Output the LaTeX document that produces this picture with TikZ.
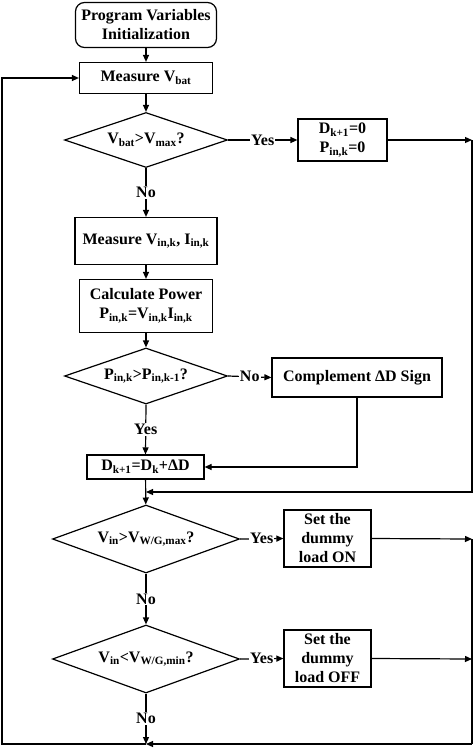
\documentclass[tikz,border=0pt]{standalone}
\usepackage{fontspec}
\setmainfont{Liberation Serif}
\usetikzlibrary{shapes.geometric,arrows.meta,positioning,calc}

\begin{document}
\begin{tikzpicture}[
  x=1pt, y=-1pt,
  every node/.style={font=\fontsize{16}{19}\selectfont\bfseries},
  procbox/.style={rectangle, draw, line width=1.2pt, align=center, inner sep=1pt},
  startbox/.style={procbox, rounded corners=9pt},
  decision/.style={diamond, draw, line width=1.2pt, aspect=2.8, inner sep=0pt},
  flowline/.style={line width=1.2pt, -{Triangle[length=7pt,width=6pt]}},
  plainline/.style={line width=1.2pt},
  answer/.style={fill=white, inner sep=1pt}
]
  \useasboundingbox (0,0) rectangle (474,748);

  % main column
  \node[startbox, minimum width=141pt, minimum height=45pt] (init) at (146,25)
      {Program Variables\\Initialization};
  \node[procbox, minimum width=133pt, minimum height=31pt] (vbat) at (146,78)
      {Measure V\textsubscript{bat}};
  \node[decision, minimum width=163pt, minimum height=55pt] (chkbat) at (146,140)
      {V\textsubscript{bat}>V\textsubscript{max}?};
  \node[procbox, minimum width=142pt, minimum height=47pt] (meas) at (146,241)
      {Measure V\textsubscript{in,k}, I\textsubscript{in,k}};
  \node[procbox, minimum width=133pt, minimum height=53pt] (power) at (146,306)
      {Calculate Power\\P\textsubscript{in,k}=V\textsubscript{in,k}I\textsubscript{in,k}};
  \node[decision, minimum width=163pt, minimum height=56pt] (chkpow) at (146,376)
      {P\textsubscript{in,k}>P\textsubscript{in,k-1}?};
  \node[procbox, minimum width=117pt, minimum height=24pt] (duty) at (145.5,467)
      {D\textsubscript{k+1}=D\textsubscript{k}+ΔD};
  \node[decision, minimum width=187pt, minimum height=68pt] (chkmax) at (146,539)
      {V\textsubscript{in}>V\textsubscript{W/G,max}?};
  \node[decision, minimum width=187pt, minimum height=68pt] (chkmin) at (146,659)
      {V\textsubscript{in}<V\textsubscript{W/G,min}?};

  % side boxes
  \node[procbox, minimum width=89pt, minimum height=42pt] (reset) at (342.5,140)
      {D\textsubscript{k+1}=0\\P\textsubscript{in,k}=0};
  \node[procbox, minimum width=170pt, minimum height=39pt] (compl) at (357,377.5)
      {Complement ΔD Sign};
  \node[procbox, minimum width=87pt, minimum height=57pt] (loadon) at (327.5,538.5)
      {Set the\\dummy\\load ON};
  \node[procbox, minimum width=87pt, minimum height=57pt] (loadoff) at (327.5,658.5)
      {Set the\\dummy\\load OFF};

  % loop corners
  \coordinate (rtop) at (472,140);
  \coordinate (jmid) at (146,492);
  \coordinate (ron)  at (472,539);
  \coordinate (roff) at (472,659);
  \coordinate (rbot) at (472,744);
  \coordinate (jbot) at (146,744);
  \coordinate (lbot) at (2,744);

  \draw[flowline] (init) -- (vbat);
  \draw[flowline] (vbat) -- (chkbat);
  \draw[flowline] (chkbat.east) -- node[answer] {Yes} (reset.west);
  \draw[flowline] (reset.east) -- (rtop);
  \draw[flowline] (rtop) |- (jmid);
  \draw[flowline] (chkbat.south) -- node[answer] {No} (meas.north);
  \draw[flowline] (meas) -- (power);
  \draw[flowline] (power) -- (chkpow);
  \draw[flowline] (chkpow.east) -- node[answer] {No} (compl.west);
  \draw[flowline] (chkpow.south) -- node[answer] {Yes} (duty.north);
  \draw[flowline] (compl.south) |- (duty.east);
  \draw[flowline] (duty) -- (chkmax);
  \draw[flowline] (chkmax.east) -- node[answer] {Yes} (loadon.west);
  \draw[flowline] (loadon.east) -- (ron);
  \draw[flowline] (chkmax.south) -- node[answer] {No} (chkmin.north);
  \draw[flowline] (chkmin.east) -- node[answer] {Yes} (loadoff.west);
  \draw[flowline] (loadoff.east) -- (roff);
  \draw[flowline] (chkmin.south) -- node[answer] {No} (jbot);
  \draw[plainline] (ron) -- (rbot);
  \draw[flowline] (rbot) -- (jbot);
  \draw[flowline] (jbot) -- (lbot) |- (vbat.west);
\end{tikzpicture}
\end{document}
